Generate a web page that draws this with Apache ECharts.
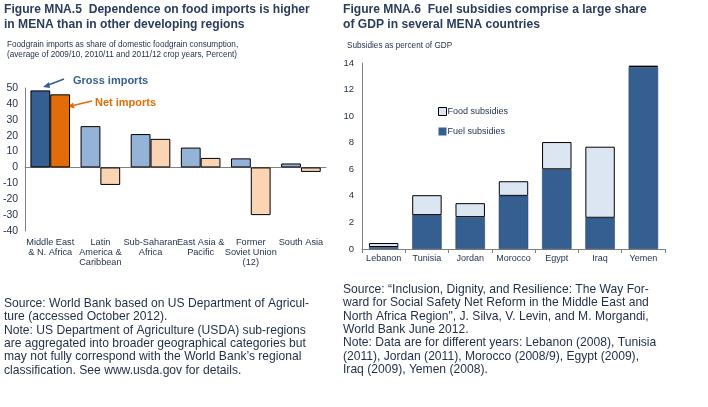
<!DOCTYPE html>
<html><head><meta charset="utf-8">
<script src="https://cdn.jsdelivr.net/npm/echarts@6/dist/echarts.min.js"></script>
<style>html,body{margin:0;padding:0;background:#fff}#c{width:708px;height:407px}</style>
</head><body><div id="c"></div>
<script>
// ---- Left chart data (Figure MNA.5) ----
const regions = ['Middle East\n& N. Africa', 'Latin\nAmerica &\nCaribbean', 'Sub-Saharan\nAfrica', 'East Asia &\nPacific', 'Former\nSoviet Union\n(12)', 'South Asia'];
const grossImports = [48.5, 26, 21, 12.5, 5.7, 2.5];
const netImports = [46, -11, 18, 6, -30, -2.8];
const leftAxisMin = -40, leftAxisMax = 50, leftAxisStep = 10;

// ---- Right chart data (Figure MNA.6) ----
const countries = ['Lebanon', 'Tunisia', 'Jordan', 'Morocco', 'Egypt', 'Iraq', 'Yemen'];
const fuelSubsidies = [0.15, 2.55, 2.4, 4.0, 6.0, 2.35, 13.7];
const foodSubsidies = [0.3, 1.5, 1.05, 1.1, 2.05, 5.35, 0.1];
const rightAxisMin = 0, rightAxisMax = 14, rightAxisStep = 2;

const SANS = '"Liberation Sans", Arial, sans-serif';
const TITLE_C = '#2a3d5c';
const TEXT_C = '#1f2d48';
const DARK_BLUE = '#365f91', LIGHT_BLUE = '#95b3d7', ORANGE = '#e36c0a', PEACH = '#fbd4b4', PALE = '#dce6f2';

const chart = echarts.init(document.getElementById('c'), null, {renderer: 'canvas'});

function txt(text, x, y, font, fill) {
  return {type: 'text', x: x, y: y, style: {text: text, font: font, fill: fill, textVerticalAlign: 'middle'}};
}

const graphics = [
  txt('Figure MNA.5  Dependence on food imports is higher', 4, 10, 'bold 12.1px ' + SANS, TITLE_C),
  txt('in MENA than in other developing regions', 4, 25, 'bold 12.1px ' + SANS, TITLE_C),
  txt('Foodgrain imports as share of domestic foodgrain consumption,', 7, 45, '8.2px ' + SANS, TEXT_C),
  txt('(average of 2009/10, 2010/11 and 2011/12 crop years, Percent)', 7, 54.5, '8.2px ' + SANS, TEXT_C),
  txt('Figure MNA.6  Fuel subsidies comprise a large share', 343, 10, 'bold 12.1px ' + SANS, TITLE_C),
  txt('of GDP in several MENA countries', 343, 25, 'bold 12.1px ' + SANS, TITLE_C),
  txt('Subsidies as percent of GDP', 347, 46, '8.2px ' + SANS, TEXT_C),
  // annotations
  txt('Gross imports', 73, 81, 'bold 11px ' + SANS, DARK_BLUE),
  txt('Net imports', 95, 103, 'bold 11px ' + SANS, ORANGE),
  {type: 'line', shape: {x1: 64, y1: 79, x2: 47, y2: 85.5}, style: {stroke: DARK_BLUE, lineWidth: 1.6}},
  {type: 'polygon', shape: {points: [[43, 87], [49, 82], [50, 88]]}, style: {fill: DARK_BLUE}},
  {type: 'line', shape: {x1: 92, y1: 101, x2: 73, y2: 105.5}, style: {stroke: ORANGE, lineWidth: 1.6}},
  {type: 'polygon', shape: {points: [[68, 106.5], [73, 102.5], [74.5, 108.5]]}, style: {fill: ORANGE}}
];

const leftNotes = [
  'Source: World Bank based on US Department of Agricul-',
  'ture (accessed October 2012).',
  'Note: US Department of Agriculture (USDA) sub-regions',
  'are aggregated into broader geographical categories but',
  'may not fully correspond with the World Bank\u2019s regional',
  'classification. See www.usda.gov for details.'
];
const rightNotes = [
  'Source: \u201cInclusion, Dignity, and Resilience: The Way For-',
  'ward for Social Safety Net Reform in the Middle East and',
  'North Africa Region", J. Silva, V. Levin, and M. Morgandi,',
  'World Bank June 2012.',
  'Note: Data are for different years: Lebanon (2008), Tunisia',
  '(2011), Jordan (2011), Morocco (2008/9), Egypt (2009),',
  'Iraq (2009), Yemen (2008).'
];
leftNotes.forEach((t, i) => graphics.push(txt(t, 4, 303.5 + i * 13.4, '12.1px ' + SANS, TEXT_C)));
rightNotes.forEach((t, i) => graphics.push(txt(t, 343, 289.5 + i * 13.4, '12.1px ' + SANS, TEXT_C)));

const axisLbl = {color: TEXT_C, fontFamily: SANS, fontSize: 9};

const option = {
  animation: false,
  backgroundColor: '#fff',
  grid: [
    {left: 22, right: 382, top: 88, bottom: 176},
    {left: 362, right: 43, top: 63, bottom: 158}
  ],
  xAxis: [
    {type: 'category', gridIndex: 0, data: regions, axisLine: {onZero: true, lineStyle: {color: '#808080', width: 1}},
     axisTick: {show: false}, axisLabel: {show: false}},
    {type: 'category', gridIndex: 0, data: regions, position: 'bottom', axisLine: {show: false, onZero: false},
     axisTick: {show: false}, axisLabel: Object.assign({margin: 6, lineHeight: 10, interval: 0}, axisLbl, {fontSize: 9.2})},
    {type: 'category', gridIndex: 1, data: countries, axisLine: {lineStyle: {color: '#808080'}},
     axisTick: {show: true, length: 4, lineStyle: {color: '#808080'}}, axisLabel: Object.assign({margin: 5, interval: 0}, axisLbl)}
  ],
  yAxis: [
    {type: 'value', gridIndex: 0, min: leftAxisMin, max: leftAxisMax, interval: leftAxisStep,
     axisLine: {show: true, lineStyle: {color: '#808080'}}, axisTick: {show: false}, splitLine: {show: false},
     axisLabel: Object.assign({margin: 7}, axisLbl, {fontSize: 10.5})},
    {type: 'value', gridIndex: 1, min: rightAxisMin, max: rightAxisMax, interval: rightAxisStep,
     axisLine: {show: true, lineStyle: {color: '#808080'}}, axisTick: {show: false}, splitLine: {show: false},
     axisLabel: Object.assign({margin: 8}, axisLbl, {fontSize: 9.5})}
  ],
  legend: {
    left: 433, top: 102, orient: 'vertical', itemWidth: 8, itemHeight: 8, itemGap: 11,
    textStyle: {color: TEXT_C, fontFamily: SANS, fontSize: 9, padding: [0, 0, 0, -4]},
    data: [
      {name: 'Food subsidies', icon: 'rect', itemStyle: {color: PALE, borderColor: '#000', borderWidth: 1}},
      {name: 'Fuel subsidies', icon: 'rect', itemStyle: {color: DARK_BLUE, borderColor: DARK_BLUE, borderWidth: 0}}
    ]
  },
  series: [
    {name: 'Gross imports', type: 'bar', xAxisIndex: 0, yAxisIndex: 0, barCategoryGap: '21%', barGap: '0%',
     data: grossImports.map((v, i) => ({value: v, itemStyle: {color: i === 0 ? DARK_BLUE : LIGHT_BLUE}})),
     itemStyle: {borderColor: '#000', borderWidth: 1}},
    {name: 'Net imports', type: 'bar', xAxisIndex: 0, yAxisIndex: 0, barCategoryGap: '21%', barGap: '0%',
     data: netImports.map((v, i) => ({value: v, itemStyle: {color: i === 0 ? ORANGE : PEACH}})),
     itemStyle: {borderColor: '#000', borderWidth: 1}},
    {name: 'Fuel subsidies', type: 'bar', xAxisIndex: 2, yAxisIndex: 1, stack: 'sub', barCategoryGap: '32%',
     data: fuelSubsidies, itemStyle: {color: DARK_BLUE, borderColor: '#1f3555', borderWidth: 0.5}},
    {name: 'Food subsidies', type: 'bar', xAxisIndex: 2, yAxisIndex: 1, stack: 'sub', barCategoryGap: '32%',
     data: foodSubsidies, itemStyle: {color: PALE, borderColor: '#000', borderWidth: 1}}
  ],
  graphic: graphics
};
chart.setOption(option);
</script></body></html>
